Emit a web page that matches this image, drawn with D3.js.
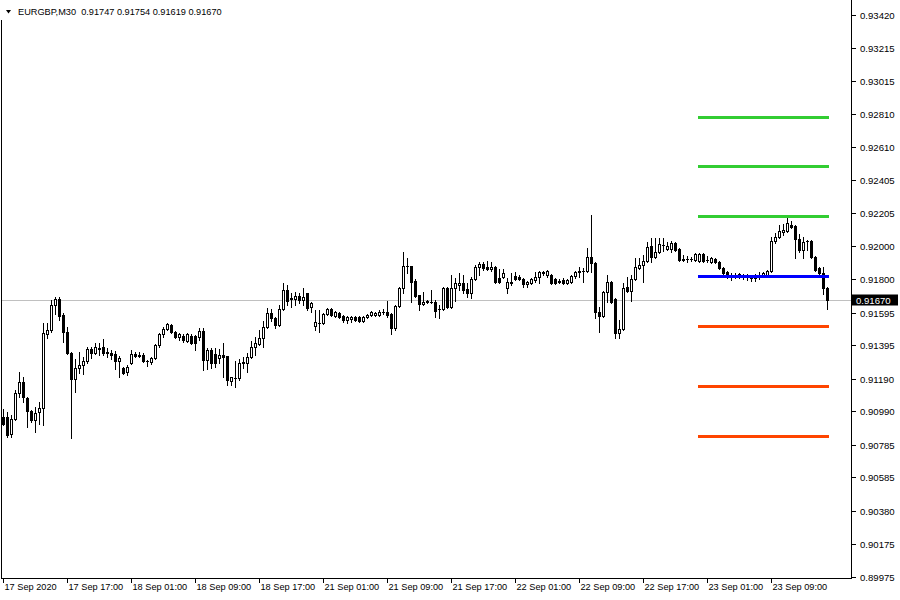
<!DOCTYPE html>
<html>
<head>
<meta charset="utf-8">
<script src="https://cdn.jsdelivr.net/npm/d3@7"></script>
<style>
html,body{margin:0;padding:0;background:#fff;}
svg{display:block;}
text{font-family:"Liberation Sans",Arial,sans-serif;font-size:9.6px;fill:#000;}
text.tl{font-size:9.2px;}
</style>
</head>
<body>
<svg id="chart" width="900" height="600"></svg>
<script>
// ---- data ----
const symbolTitle = "EURGBP,M30";
const lastQuote = ["0.91747", "0.91754", "0.91619", "0.91670"];
const startTime = "2020-09-17 09:00";

const open = [
0.90956,0.90956,0.90852,0.90944,0.91103,0.91171,0.91073,0.90993,0.90938,0.90987,
0.91011,0.91465,0.91489,0.91643,0.91680,0.91582,0.91477,0.91348,0.91189,0.91256,
0.91275,0.91299,0.91373,0.91348,0.91373,0.91385,0.91354,0.91348,0.91342,0.91299,
0.91256,0.91232,0.91287,0.91342,0.91336,0.91336,0.91299,0.91293,0.91318,0.91397,
0.91465,0.91496,0.91520,0.91477,0.91447,0.91453,0.91422,0.91453,0.91453,0.91447,
0.91483,0.91305,0.91367,0.91342,0.91318,0.91336,0.91330,0.91177,0.91195,0.91195,
0.91287,0.91287,0.91324,0.91385,0.91404,0.91440,0.91508,0.91594,0.91563,0.91520,
0.91618,0.91735,0.91686,0.91680,0.91698,0.91673,0.91716,0.91631,0.91514,0.91532,
0.91532,0.91588,0.91618,0.91575,0.91594,0.91575,0.91551,0.91557,0.91569,0.91569,
0.91545,0.91569,0.91582,0.91582,0.91582,0.91600,0.91600,0.91588,0.91502,0.91637,
0.91747,0.91882,0.91882,0.91790,0.91704,0.91649,0.91661,0.91661,0.91661,0.91618,
0.91618,0.91747,0.91631,0.91747,0.91765,0.91778,0.91741,0.91716,0.91802,0.91875,
0.91894,0.91875,0.91863,0.91875,0.91808,0.91814,0.91747,0.91778,0.91820,0.91814,
0.91802,0.91771,0.91778,0.91796,0.91814,0.91839,0.91827,0.91827,0.91802,0.91790,
0.91796,0.91778,0.91784,0.91820,0.91845,0.91851,0.91851,0.91937,0.91900,0.91600,
0.91575,0.91722,0.91784,0.91680,0.91471,0.91496,0.91753,0.91729,0.91802,0.91869,
0.91888,0.91912,0.92004,0.91937,0.91967,0.92010,0.91986,0.91986,0.92023,0.91986,
0.91925,0.91925,0.91925,0.91918,0.91912,0.91955,0.91918,0.91906,0.91925,0.91906,
0.91869,0.91845,0.91820,0.91827,0.91833,0.91827,0.91814,0.91808,0.91820,0.91827,
0.91820,0.91820,0.91851,0.92035,0.92059,0.92090,0.92096,0.92133,0.92127,0.92047,
0.91980,0.92035,0.92035,0.91937,0.91869,0.91839,0.91747
];
const high = [
0.91005,0.90987,0.90969,0.91122,0.91232,0.91201,0.91079,0.90999,0.91018,0.91048,
0.91532,0.91532,0.91673,0.91692,0.91692,0.91594,0.91508,0.91354,0.91312,0.91354,
0.91324,0.91385,0.91385,0.91410,0.91410,0.91434,0.91379,0.91367,0.91361,0.91330,
0.91263,0.91275,0.91367,0.91354,0.91354,0.91348,0.91305,0.91324,0.91404,0.91471,
0.91508,0.91532,0.91526,0.91483,0.91471,0.91465,0.91471,0.91465,0.91459,0.91502,
0.91502,0.91379,0.91379,0.91379,0.91373,0.91410,0.91330,0.91201,0.91299,0.91312,
0.91324,0.91348,0.91422,0.91447,0.91489,0.91545,0.91624,0.91618,0.91569,0.91643,
0.91778,0.91765,0.91716,0.91722,0.91716,0.91747,0.91716,0.91661,0.91612,0.91612,
0.91594,0.91624,0.91624,0.91606,0.91600,0.91582,0.91575,0.91575,0.91575,0.91575,
0.91575,0.91588,0.91606,0.91600,0.91612,0.91618,0.91667,0.91594,0.91643,0.91753,
0.91967,0.91931,0.91882,0.91802,0.91704,0.91722,0.91673,0.91735,0.91673,0.91643,
0.91753,0.91753,0.91827,0.91808,0.91839,0.91827,0.91778,0.91814,0.91888,0.91906,
0.91906,0.91912,0.91906,0.91882,0.91863,0.91863,0.91808,0.91839,0.91845,0.91827,
0.91808,0.91790,0.91808,0.91845,0.91851,0.91851,0.91857,0.91833,0.91808,0.91802,
0.91808,0.91802,0.91827,0.91851,0.91875,0.91869,0.91992,0.92194,0.91906,0.91631,
0.91729,0.91827,0.91790,0.91686,0.91551,0.91778,0.91814,0.91827,0.91931,0.91931,
0.91949,0.92029,0.92053,0.92053,0.92053,0.92053,0.92029,0.92035,0.92029,0.91992,
0.91949,0.91943,0.91937,0.91961,0.91961,0.91961,0.91943,0.91937,0.91931,0.91912,
0.91875,0.91851,0.91839,0.91839,0.91839,0.91833,0.91833,0.91827,0.91833,0.91845,
0.91845,0.91857,0.92059,0.92084,0.92133,0.92139,0.92176,0.92157,0.92133,0.92078,
0.92059,0.92041,0.92041,0.91943,0.91875,0.91875,0.91754
];
const low = [
0.90907,0.90834,0.90834,0.90938,0.91079,0.91048,0.90895,0.90926,0.90864,0.90913,
0.90907,0.91440,0.91477,0.91588,0.91551,0.91416,0.91342,0.90828,0.91109,0.91226,
0.91220,0.91287,0.91318,0.91342,0.91336,0.91336,0.91324,0.91312,0.91250,0.91201,
0.91220,0.91214,0.91281,0.91324,0.91324,0.91293,0.91269,0.91281,0.91312,0.91385,
0.91447,0.91489,0.91471,0.91440,0.91428,0.91416,0.91416,0.91404,0.91367,0.91428,
0.91244,0.91250,0.91256,0.91263,0.91287,0.91201,0.91152,0.91152,0.91140,0.91183,
0.91256,0.91232,0.91318,0.91336,0.91397,0.91385,0.91502,0.91545,0.91502,0.91514,
0.91612,0.91643,0.91631,0.91643,0.91655,0.91643,0.91612,0.91600,0.91489,0.91477,
0.91526,0.91582,0.91575,0.91569,0.91563,0.91539,0.91532,0.91539,0.91545,0.91539,
0.91539,0.91563,0.91575,0.91575,0.91575,0.91588,0.91569,0.91465,0.91489,0.91631,
0.91716,0.91839,0.91661,0.91692,0.91612,0.91643,0.91655,0.91655,0.91569,0.91563,
0.91612,0.91624,0.91624,0.91667,0.91735,0.91716,0.91692,0.91686,0.91796,0.91827,
0.91857,0.91857,0.91851,0.91778,0.91778,0.91808,0.91716,0.91765,0.91796,0.91796,
0.91753,0.91753,0.91771,0.91784,0.91778,0.91827,0.91814,0.91771,0.91771,0.91778,
0.91771,0.91771,0.91778,0.91808,0.91814,0.91784,0.91845,0.91845,0.91563,0.91477,
0.91569,0.91661,0.91655,0.91440,0.91440,0.91489,0.91722,0.91667,0.91796,0.91863,
0.91784,0.91906,0.91906,0.91931,0.91961,0.91974,0.91980,0.91967,0.91974,0.91912,
0.91912,0.91906,0.91912,0.91912,0.91906,0.91906,0.91906,0.91900,0.91900,0.91863,
0.91827,0.91808,0.91796,0.91808,0.91808,0.91802,0.91796,0.91790,0.91790,0.91802,
0.91814,0.91814,0.91845,0.92023,0.92053,0.92072,0.92090,0.92114,0.91931,0.91967,
0.91931,0.91980,0.91931,0.91851,0.91827,0.91710,0.91619
];
const close = [
0.90913,0.90846,0.90944,0.91103,0.91171,0.91079,0.90993,0.90938,0.90981,0.91011,
0.91471,0.91489,0.91643,0.91680,0.91575,0.91477,0.91348,0.91189,0.91256,0.91275,
0.91299,0.91373,0.91348,0.91385,0.91379,0.91348,0.91348,0.91336,0.91299,0.91318,
0.91226,0.91263,0.91342,0.91330,0.91330,0.91299,0.91299,0.91318,0.91397,0.91465,
0.91496,0.91526,0.91477,0.91447,0.91465,0.91428,0.91465,0.91410,0.91410,0.91483,
0.91305,0.91367,0.91287,0.91287,0.91336,0.91324,0.91183,0.91201,0.91195,0.91287,
0.91293,0.91324,0.91385,0.91410,0.91440,0.91508,0.91594,0.91563,0.91520,0.91618,
0.91735,0.91667,0.91680,0.91698,0.91673,0.91692,0.91624,0.91655,0.91539,0.91532,
0.91588,0.91618,0.91582,0.91600,0.91569,0.91551,0.91569,0.91569,0.91551,0.91545,
0.91569,0.91582,0.91600,0.91594,0.91600,0.91600,0.91582,0.91502,0.91637,0.91747,
0.91882,0.91882,0.91784,0.91698,0.91649,0.91661,0.91667,0.91661,0.91606,0.91618,
0.91747,0.91631,0.91747,0.91778,0.91778,0.91735,0.91716,0.91802,0.91875,0.91894,
0.91869,0.91863,0.91875,0.91784,0.91784,0.91839,0.91784,0.91784,0.91802,0.91802,
0.91771,0.91784,0.91802,0.91814,0.91845,0.91845,0.91851,0.91778,0.91778,0.91784,
0.91778,0.91796,0.91820,0.91845,0.91851,0.91851,0.91937,0.91900,0.91600,0.91575,
0.91722,0.91784,0.91661,0.91471,0.91496,0.91747,0.91729,0.91802,0.91875,0.91888,
0.91912,0.91998,0.91937,0.91967,0.92016,0.92010,0.92004,0.92023,0.91980,0.91918,
0.91918,0.91925,0.91925,0.91955,0.91955,0.91912,0.91918,0.91931,0.91906,0.91869,
0.91839,0.91820,0.91820,0.91827,0.91814,0.91814,0.91827,0.91820,0.91808,0.91814,
0.91839,0.91851,0.92035,0.92059,0.92096,0.92102,0.92145,0.92121,0.92047,0.91980,
0.92029,0.92035,0.91937,0.91857,0.91839,0.91747,0.91670
];

const pivotStart = "2020-09-23 00:00";
const resistanceLevels = [0.92795, 0.92494, 0.92188];
const pivotLevel = [0.91820];
const supportLevels = [0.91514, 0.91146, 0.90840];

const priceTickLabels = ["0.93420","0.93215","0.93015","0.92810","0.92610","0.92405","0.92205","0.92000",
  "0.91800","0.91595","0.91395","0.91190","0.90990","0.90785","0.90585","0.90380","0.90175","0.89975"];
const timeTickKeys = ["2020-09-17 09:00","2020-09-17 17:00","2020-09-18 01:00","2020-09-18 09:00","2020-09-18 17:00",
  "2020-09-21 01:00","2020-09-21 09:00","2020-09-21 17:00","2020-09-22 01:00","2020-09-22 09:00",
  "2020-09-22 17:00","2020-09-23 01:00","2020-09-23 09:00"];
const timeTickLabels = ["17 Sep 2020","17 Sep 17:00","18 Sep 01:00","18 Sep 09:00","18 Sep 17:00",
  "21 Sep 01:00","21 Sep 09:00","21 Sep 17:00","22 Sep 01:00","22 Sep 09:00",
  "22 Sep 17:00","23 Sep 01:00","23 Sep 09:00"];

// ---- bar times (M30, weekdays only) ----
const parseT = d3.utcParse("%Y-%m-%d %H:%M");
const fmtT = d3.utcFormat("%Y-%m-%d %H:%M");
const times = [];
{
  let t = parseT(startTime);
  while (times.length < open.length) {
    const wd = t.getUTCDay();
    if (wd !== 0 && wd !== 6) times.push(fmtT(t));
    t = d3.utcMinute.offset(t, 30);
  }
}
const bars = times.map((k, i) => ({k, o: open[i], h: high[i], l: low[i], c: close[i]}));

// ---- layout ----
const W = 900, H = 600;
const axisX = 851, axisY = 578;
const svg = d3.select("#chart");
svg.append("rect").attr("width", W).attr("height", H).attr("fill", "#fff");

const x = d3.scaleBand().domain(times).range([1.3, 1.3 + 4 * times.length]).padding(0);
const y = d3.scaleLinear().domain([0.89975, 0.93420]).range([576.8, 14.8]);
const cx = k => Math.floor(x(k) + x.bandwidth() / 2);
const ry = v => Math.round(y(v));

// frame
const frame = svg.append("g").attr("stroke", "#000").attr("stroke-width", 1).attr("shape-rendering", "crispEdges");
frame.append("line").attr("x1", 1.5).attr("x2", 1.5).attr("y1", 20).attr("y2", axisY + 0.5);
frame.append("line").attr("x1", 1).attr("x2", axisX + 1).attr("y1", axisY + 0.5).attr("y2", axisY + 0.5);
frame.append("line").attr("x1", axisX + 0.5).attr("x2", axisX + 0.5).attr("y1", 0).attr("y2", axisY + 1);

// current price line
const lastClose = close[close.length - 1];
svg.append("line").attr("x1", 2).attr("x2", axisX)
  .attr("y1", ry(lastClose) + 0.5).attr("y2", ry(lastClose) + 0.5)
  .attr("stroke", "#c0c0c0").attr("stroke-width", 1).attr("shape-rendering", "crispEdges");

// candles
const cg = svg.append("g").attr("shape-rendering", "crispEdges");
bars.forEach(b => {
  const c = cx(b.k);
  const g = cg.append("g");
  g.append("line").attr("x1", c + 0.5).attr("x2", c + 0.5)
    .attr("y1", ry(b.h)).attr("y2", ry(b.l) + 1).attr("stroke", "#000").attr("stroke-width", 1);
  const top = ry(Math.max(b.o, b.c)), bot = ry(Math.min(b.o, b.c));
  if (bot === top) {
    g.append("line").attr("x1", c - 1).attr("x2", c + 2).attr("y1", top + 0.5).attr("y2", top + 0.5)
      .attr("stroke", "#000").attr("stroke-width", 1);
  } else if (b.c > b.o) {
    g.append("rect").attr("x", c - 0.5).attr("y", top + 0.5).attr("width", 2).attr("height", bot - top)
      .attr("fill", "#fff").attr("stroke", "#000").attr("stroke-width", 1);
  } else {
    g.append("rect").attr("x", c - 1).attr("y", top).attr("width", 3).attr("height", bot - top + 1)
      .attr("fill", "#000");
  }
});

// pivot levels
const lvX1 = cx(pivotStart) - 1, lvX2 = cx(times[times.length - 1]) + 2;
const levels = [
  ...resistanceLevels.map(v => ({v, col: "#32cd32"})),
  ...pivotLevel.map(v => ({v, col: "#0000ff"})),
  ...supportLevels.map(v => ({v, col: "#ff4500"}))
];
svg.append("g").selectAll("line").data(levels).join("line")
  .attr("x1", lvX1).attr("x2", lvX2)
  .attr("y1", d => ry(d.v) + 0.5).attr("y2", d => ry(d.v) + 0.5)
  .attr("stroke", d => d.col).attr("stroke-width", 3).attr("shape-rendering", "crispEdges");

// price axis
const pa = svg.append("g");
priceTickLabels.forEach(s => {
  const yy = ry(+s) + 0.5;
  pa.append("line").attr("x1", axisX + 1).attr("x2", axisX + 5).attr("y1", yy).attr("y2", yy)
    .attr("stroke", "#000").attr("shape-rendering", "crispEdges");
  pa.append("text").attr("x", axisX + 9).attr("y", yy).attr("dy", "0.35em").text(s);
});

// current price box
{
  const yy = ry(lastClose) + 0.5;
  svg.append("rect").attr("x", axisX + 1).attr("y", yy - 6).attr("width", 46).attr("height", 11).attr("fill", "#000");
  svg.append("text").attr("x", axisX + 5).attr("y", yy).attr("dy", "0.35em")
    .style("fill", "#fff").text(d3.format(".5f")(lastClose));
}

// time axis
const ta = svg.append("g");
timeTickKeys.forEach((k, i) => {
  const xx = cx(k) + 0.5;
  ta.append("line").attr("x1", xx).attr("x2", xx).attr("y1", axisY + 1).attr("y2", axisY + 5)
    .attr("stroke", "#000").attr("shape-rendering", "crispEdges");
  ta.append("text").attr("class", "tl").attr("x", xx + 1).attr("y", 590).text(timeTickLabels[i]);
});

// title
svg.append("path").attr("d", "M6,10 L11,10 L8.5,13.5 Z").attr("fill", "#000");
svg.append("text").attr("class", "tl").attr("x", 18).attr("y", 15)
  .text(symbolTitle + "\u00a0\u00a0" + lastQuote.join(" "));
</script>
</body>
</html>
